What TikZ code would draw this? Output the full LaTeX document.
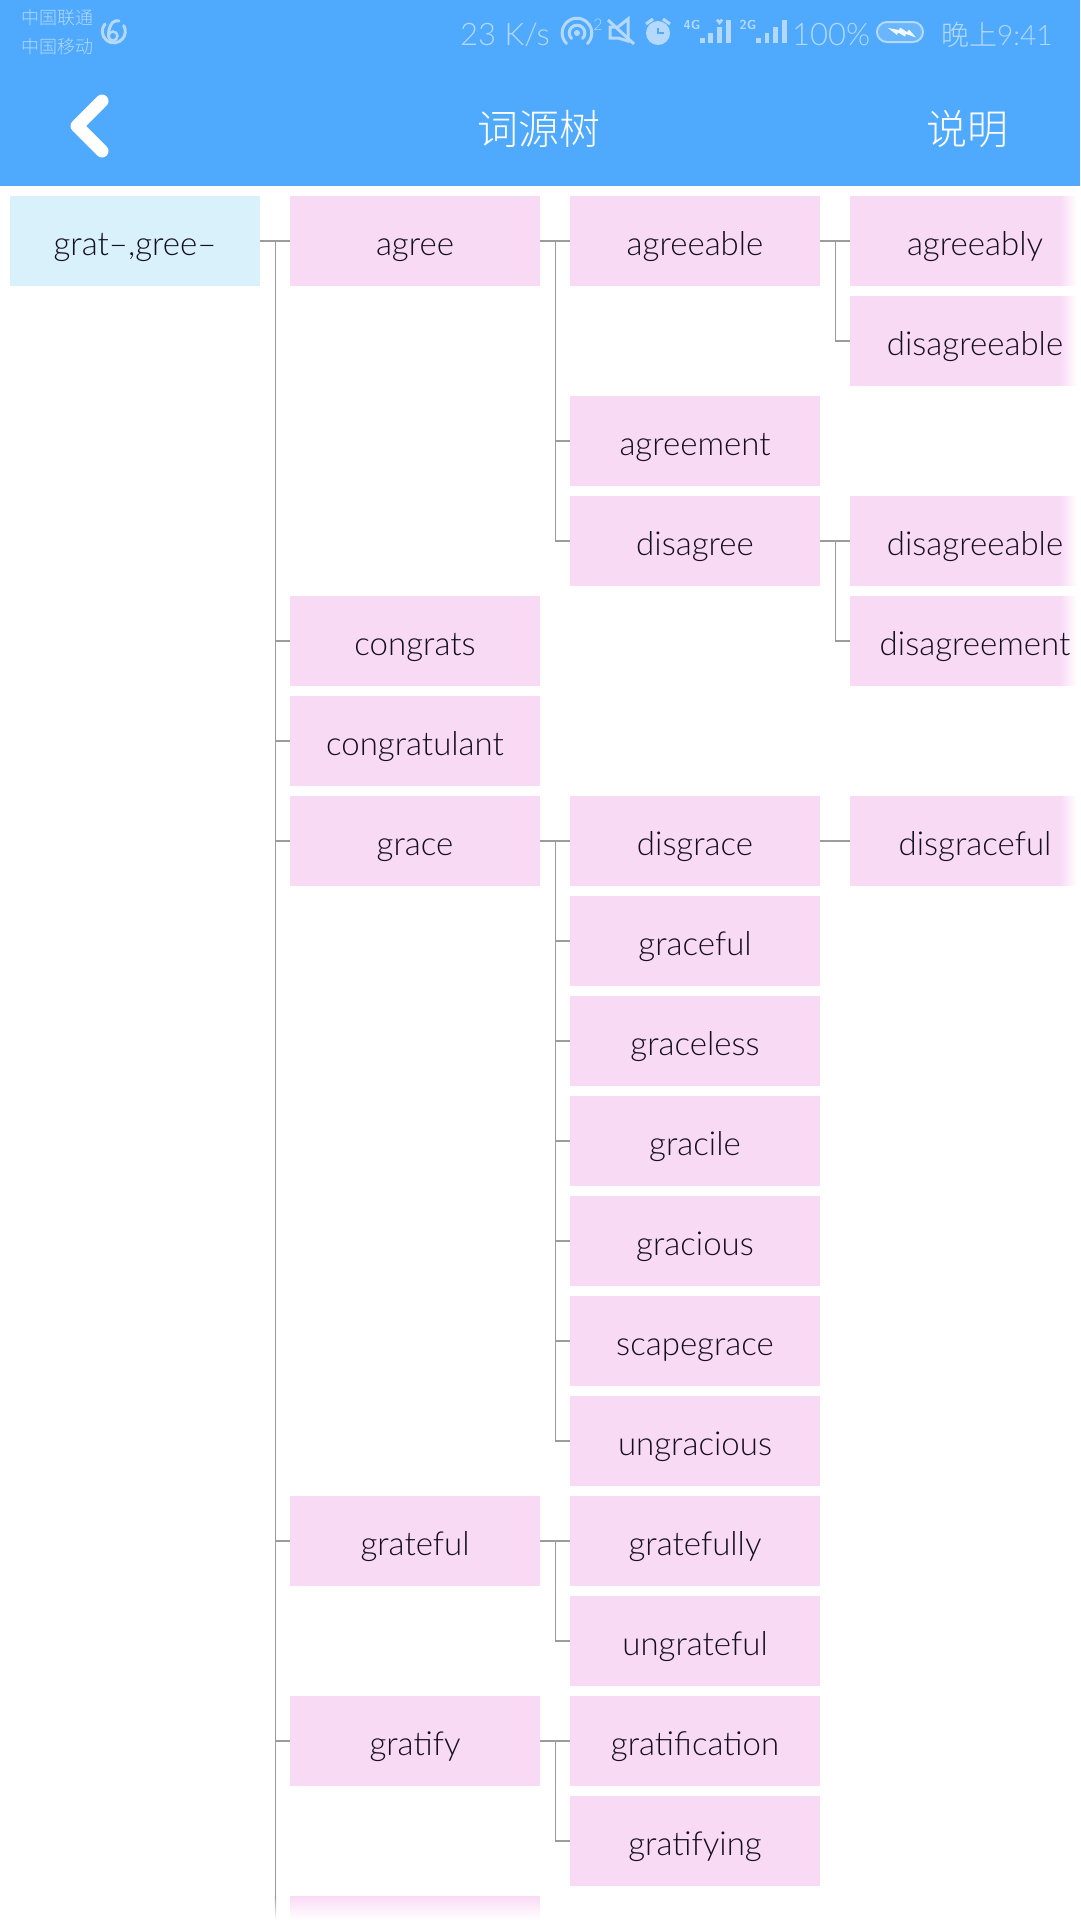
\documentclass[tikz,border=0pt]{standalone}
\usepackage{fontspec}
\setmainfont{Lato Light}
\newfontfamily\cjk{Noto Sans CJK SC Light}
\definecolor{barblue}{HTML}{4FA9FC}
\definecolor{rootblue}{HTML}{D9F1FB}
\definecolor{wordpink}{HTML}{F9DAF5}
\definecolor{wordink}{HTML}{140F1E}
\definecolor{linkgray}{HTML}{9C9C9C}
\definecolor{statuslight}{HTML}{B4D9FD}
\pgfdeclarehorizontalshading{edgefade}{100bp}{color(0bp)=(wordpink); color(67bp)=(wordpink); color(70.4bp)=(white); color(100bp)=(white)}
\tikzset{
	box/.style={shape=rectangle, minimum width=250pt, minimum height=90pt, inner sep=0pt, outer sep=0pt, text height=32pt, text depth=4pt, text=wordink, font=\fontsize{33}{33}\selectfont},
	rootbox/.style={box, fill=rootblue},
	wordbox/.style={box, fill=wordpink},
	edgebox/.style={box, shading=edgefade, minimum height=89.4pt},
	link/.style={draw=linkgray, line width=1.3pt},
	status/.style={text=statuslight, inner sep=0pt, font=\fontsize{31}{31}\selectfont},
	carrier/.style={status, font=\cjk\fontsize{18}{18}\selectfont},
	netname/.style={status, font=\sffamily\bfseries\fontsize{13}{13}\selectfont},
	headline/.style={text=white, inner sep=0pt, font=\cjk\fontsize{41}{41}\selectfont},
	icon/.style={draw=statuslight, line width=3pt},
}
\begin{document}
\begin{tikzpicture}[x=1pt, y=-1pt]
	%%%%% START %%%%%
	\useasboundingbox (0, 0) rectangle (1080, 1920);
	\clip (0, 0) rectangle (1080, 1920);
	\fill[barblue] (0, 0) rectangle (1080, 186);

	\node[carrier] (unicom) at (57, 18) {中国联通};
	\node[carrier] (mobile) at (57, 47) {中国移动};
	\draw[icon, line cap=round] (105, 24) arc (220:-30:11.5);
	\draw[icon, line width=2.5pt] (113, 36) circle (4.5);
	\draw[icon, line cap=round] (108.5, 37) .. controls (108, 28) and (112, 19) .. (119, 21);

	\node[status, anchor=west] (speed) at (460, 35) {23 K/s};
	\draw[icon, line cap=round] (566.5, 43.5) arc (135:405:14.8);
	\draw[icon, line cap=round] (571.5, 38.5) arc (135:405:7.8);
	\fill[statuslight] (577, 33) circle (3);
	\node[status, font=\fontsize{16}{16}\selectfont] (hotspot) at (598, 25) {2};

	\draw[icon] (610, 27) -- (618, 27) -- (628, 19) -- (628, 41) -- (618, 38) -- (610, 38) -- cycle;
	\draw[icon] (608, 20) -- (634, 44);

	\fill[statuslight] (658, 33) circle (12);
	\draw[barblue, line width=2.5pt] (658, 28) -- (658, 33) -- (664, 33);
	\draw[icon] (646, 24) -- (653, 19);
	\draw[icon] (670, 24) -- (663, 19);

	\node[netname] (fourg) at (692, 25) {4G};
	\foreach \x/\h in {702.5/5, 710.5/10, 719.5/16, 728.5/23}
		\fill[statuslight] (\x-2.3, 43) rectangle (\x+2.3, 43-\h);
	\fill[statuslight] (719.5, 25) -- (716, 20.5) arc (180:360:1.75) arc (180:360:1.75) -- cycle;
	\node[netname] (twog) at (748, 25) {2G};
	\foreach \x/\h in {758.5/5, 767/10, 775.5/16, 784.5/23}
		\fill[statuslight] (\x-2.3, 43) rectangle (\x+2.3, 43-\h);

	\node[status, anchor=west] (charge) at (792, 35) {100\%};
	\draw[icon, fill=barblue!85!white, line width=2pt, rounded corners=10pt] (877, 22) rectangle (923, 42);
	\fill[white!85!statuslight] (888, 28) -- (899, 30) -- (900, 27.5) -- (907, 32) -- (909, 29.5) -- (916, 37.5) -- (906, 34) -- (905, 36.5) -- (898, 32.5) -- (897, 35) -- cycle;

	\node[status, anchor=west] (clock) at (941, 35) {\cjk\fontsize{28}{28}\selectfont 晚上\rmfamily 9:41};

	\draw[white, line width=13pt, line cap=round, line join=round] (102, 101) -- (77, 126) -- (102, 151);
	\node[headline] (title) at (539, 129) {词源树};
	\node[headline] (notes) at (967, 129) {说明};

	\node[rootbox] (root) at (135, 241) {grat–,gree–};

	\node[wordbox] (agree) at (415, 241) {agree};
	\node[wordbox] (congrats) at (415, 641) {congrats};
	\node[wordbox] (congratulant) at (415, 741) {congratulant};
	\node[wordbox] (grace) at (415, 841) {grace};
	\node[wordbox] (grateful) at (415, 1541) {grateful};
	\node[wordbox] (gratify) at (415, 1741) {gratify};
	\shade[top color=wordpink, bottom color=white] (290, 1896) rectangle (540, 1920);

	\node[wordbox] (agreeable) at (695, 241) {agreeable};
	\node[wordbox] (agreement) at (695, 441) {agreement};
	\node[wordbox] (disagree) at (695, 541) {disagree};
	\node[wordbox] (disgrace) at (695, 841) {disgrace};
	\node[wordbox] (graceful) at (695, 941) {graceful};
	\node[wordbox] (graceless) at (695, 1041) {graceless};
	\node[wordbox] (gracile) at (695, 1141) {gracile};
	\node[wordbox] (gracious) at (695, 1241) {gracious};
	\node[wordbox] (scapegrace) at (695, 1341) {scapegrace};
	\node[wordbox] (ungracious) at (695, 1441) {ungracious};
	\node[wordbox] (gratefully) at (695, 1541) {gratefully};
	\node[wordbox] (ungrateful) at (695, 1641) {ungrateful};
	\node[wordbox] (gratification) at (695, 1741) {gratification};
	\node[wordbox] (gratifying) at (695, 1841) {gratifying};

	\node[edgebox] (agreeably) at (975, 241) {agreeably};
	\node[edgebox] (disagreeableA) at (975, 341) {disagreeable};
	\node[edgebox] (disagreeableB) at (975, 541) {disagreeable};
	\node[edgebox] (disagreement) at (975, 641) {disagreement};
	\node[edgebox] (disgraceful) at (975, 841) {disgraceful};

	\coordinate (trunkend) at (275.5, 1896);
	\draw[link] (root.east) -- (agree.west);
	\draw[link] (root.east) ++(15.5, 0) -- (trunkend);
	\shade[top color=linkgray, bottom color=white] (274.9, 1896) rectangle (276.1, 1920);
	\foreach \w in {congrats, congratulant, grace, grateful, gratify}
		\draw[link] (\w.west) -- (trunkend |- \w.west);

	\draw[link] (agree.east) -- (agreeable.west);
	\draw[link] (agree.east) ++(15.5, 0) |- (disagree.west);
	\draw[link] (agree.east) ++(15.5, 0) |- (agreement.west);
	\draw[link] (agreeable.east) -- (agreeably.west);
	\draw[link] (agreeable.east) ++(15.5, 0) |- (disagreeableA.west);
	\draw[link] (disagree.east) -- (disagreeableB.west);
	\draw[link] (disagree.east) ++(15.5, 0) |- (disagreement.west);
	\draw[link] (grace.east) -- (disgrace.west);
	\draw[link] (disgrace.east) -- (disgraceful.west);
	\foreach \w in {graceful, graceless, gracile, gracious, scapegrace, ungracious}
		\draw[link] (grace.east) ++(15.5, 0) |- (\w.west);
	\draw[link] (grateful.east) -- (gratefully.west);
	\draw[link] (grateful.east) ++(15.5, 0) |- (ungrateful.west);
	\draw[link] (gratify.east) -- (gratification.west);
	\draw[link] (gratify.east) ++(15.5, 0) |- (gratifying.west);
	%%%%% END %%%%%
\end{tikzpicture}
\end{document}
